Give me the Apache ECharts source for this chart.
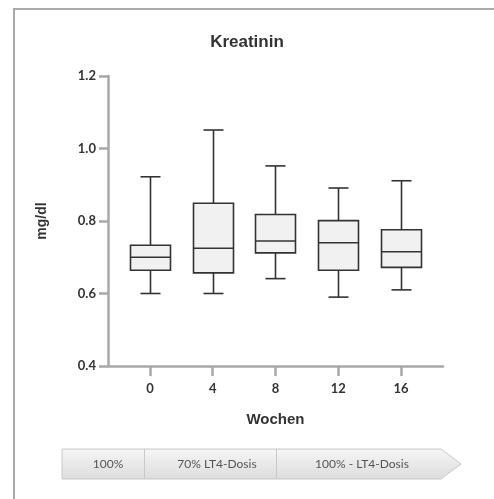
<!DOCTYPE html>
<html>
<head>
<meta charset="utf-8">
<script src="https://cdn.jsdelivr.net/npm/echarts@6/dist/echarts.min.js"></script>
<style>html,body{margin:0;padding:0;background:#fff;}#c{width:494px;height:499px;}</style>
</head>
<body>
<div id="c"></div>
<script>
const weeks = [0, 4, 8, 12, 16];
const mins = [0.600, 0.600, 0.641, 0.590, 0.610];
const q1s = [0.664, 0.657, 0.712, 0.664, 0.672];
const medians = [0.700, 0.725, 0.745, 0.740, 0.715];
const q3s = [0.733, 0.849, 0.818, 0.801, 0.776];
const maxs = [0.922, 1.051, 0.952, 0.891, 0.911];
const yTicks = [0.4, 0.6, 0.8, 1.0, 1.2];
const phaseLabels = ['100%', '70% LT4-Dosis', '100% - LT4-Dosis'];

const data = weeks.map((w, i) => [w, mins[i], q1s[i], medians[i], q3s[i], maxs[i]]);

const chart = echarts.init(document.getElementById('c'), null, {renderer: 'canvas'});
const axisColor = '#a8a8a8';
const lineColor = '#333';

chart.setOption({
  animation: false,
  title: {
    text: 'Kreatinin', left: 'center', top: 29,
    textStyle: {fontFamily: 'Liberation Sans, Arial, sans-serif', fontSize: 17, fontWeight: 'bold', color: '#333'}
  },
  grid: {left: 108, right: 51, top: 76, bottom: 133},
  xAxis: {
    type: 'value', min: -2.677, max: 18.68,
    name: 'Wochen', nameLocation: 'middle', nameGap: 46,
    nameTextStyle: {fontFamily: 'Liberation Sans, Arial, sans-serif', fontSize: 15, fontWeight: 'bold', color: '#333'},
    splitLine: {show: false},
    axisLine: {show: true, onZero: false, lineStyle: {color: axisColor, width: 2.5}},
    axisTick: {show: true, customValues: weeks, length: 10, lineStyle: {color: axisColor, width: 2.5}},
    axisLabel: {customValues: weeks, margin: 16, fontFamily: 'Lato, sans-serif', fontSize: 13, fontWeight: 'bold', color: '#333'}
  },
  yAxis: {
    type: 'value', min: 0.4, max: 1.2, interval: 0.2,
    name: 'mg/dl', nameLocation: 'middle', nameGap: 59, nameRotate: 90,
    nameTextStyle: {fontFamily: 'Liberation Sans, Arial, sans-serif', fontSize: 14, fontWeight: 'bold', color: '#333'},
    splitLine: {show: false},
    axisLine: {show: true, onZero: false, lineStyle: {color: axisColor, width: 2.5}},
    axisTick: {show: true, length: 9, lineStyle: {color: axisColor, width: 2.5}},
    axisLabel: {margin: 12, fontFamily: 'Lato, sans-serif', fontSize: 13, fontWeight: 'bold', color: '#333',
      formatter: v => v.toFixed(1)}
  },
  series: [{
    type: 'custom',
    data: data,
    encode: {x: 0, y: [1, 2, 3, 4, 5]},
    renderItem: function (params, api) {
      const x = api.value(0);
      const pLo = api.coord([x, api.value(1)]);
      const pQ1 = api.coord([x, api.value(2)]);
      const pMed = api.coord([x, api.value(3)]);
      const pQ3 = api.coord([x, api.value(4)]);
      const pHi = api.coord([x, api.value(5)]);
      const cx = Math.round(pLo[0]) + 0.5;
      const bw = 40, cw = 20;
      const st = {stroke: lineColor, lineWidth: 1.6, fill: null};
      return {
        type: 'group',
        children: [
          {type: 'line', shape: {x1: cx, y1: pHi[1], x2: cx, y2: pQ3[1]}, style: st},
          {type: 'line', shape: {x1: cx, y1: pQ1[1], x2: cx, y2: pLo[1]}, style: st},
          {type: 'line', shape: {x1: cx - cw / 2, y1: pHi[1], x2: cx + cw / 2, y2: pHi[1]}, style: st},
          {type: 'line', shape: {x1: cx - cw / 2, y1: pLo[1], x2: cx + cw / 2, y2: pLo[1]}, style: st},
          {type: 'rect', shape: {x: cx - bw / 2, y: pQ3[1], width: bw, height: pQ1[1] - pQ3[1]},
            style: {stroke: lineColor, lineWidth: 1.6, fill: '#f1f1f1'}},
          {type: 'line', shape: {x1: cx - bw / 2, y1: pMed[1], x2: cx + bw / 2, y2: pMed[1]}, style: st}
        ]
      };
    }
  }],
  graphic: [
    {type: 'polyline', shape: {points: [[14, 499], [14, 9], [494, 9]]}, style: {stroke: '#aaaaaa', lineWidth: 2, fill: null}, silent: true},
    {type: 'polygon', shape: {points: [[62, 449], [441, 449], [461, 464], [441, 479], [62, 479]]},
      style: {stroke: '#c8c8c8', lineWidth: 1,
        fill: new echarts.graphic.LinearGradient(0, 0, 0, 1, [{offset: 0, color: '#f6f6f6'}, {offset: 1, color: '#dcdcdc'}])}},
    {type: 'line', shape: {x1: 144.5, y1: 449, x2: 144.5, y2: 479}, style: {stroke: '#c8c8c8', lineWidth: 1}},
    {type: 'line', shape: {x1: 276.5, y1: 449, x2: 276.5, y2: 479}, style: {stroke: '#c8c8c8', lineWidth: 1}},
    {type: 'text', x: 108, y: 464, style: {text: phaseLabels[0], align: 'center', verticalAlign: 'middle', fontFamily: 'Lato, sans-serif', fontSize: 12, fill: '#555'}},
    {type: 'text', x: 217, y: 464, style: {text: phaseLabels[1], align: 'center', verticalAlign: 'middle', fontFamily: 'Lato, sans-serif', fontSize: 12, fill: '#555'}},
    {type: 'text', x: 362, y: 464, style: {text: phaseLabels[2], align: 'center', verticalAlign: 'middle', fontFamily: 'Lato, sans-serif', fontSize: 12, fill: '#555'}}
  ]
});
</script>
</body>
</html>
